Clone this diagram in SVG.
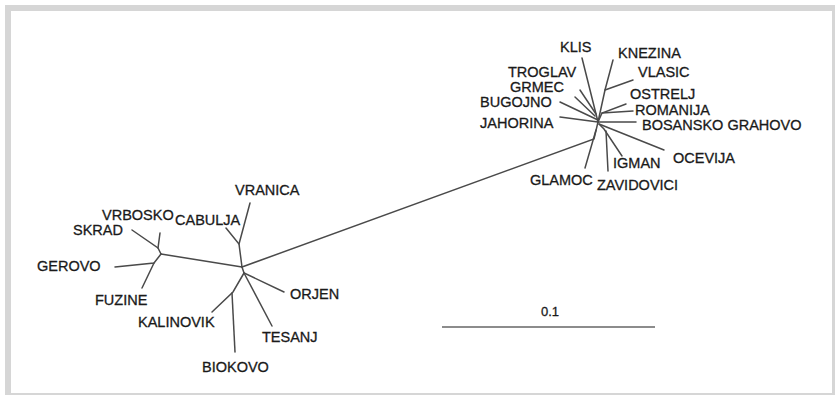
<svg xmlns="http://www.w3.org/2000/svg" width="835" height="395" viewBox="0 0 835 395">
<style>
.lbl{font-family:"Liberation Sans",Arial,sans-serif;font-size:14.5px;fill:#1a1a1a;stroke:#1a1a1a;stroke-width:0.3;}
.br{stroke:#4a4a4a;stroke-width:1.5;fill:none;stroke-linecap:round;}
.sc{stroke:#666;stroke-width:1.7;}
</style>
<rect x="5" y="5" width="830" height="390" fill="#d6d6d6"/>
<rect x="11" y="11" width="821" height="382" fill="#ffffff"/>
<g id="connectors">
<path class="br" d="M242,267 L594,139 L598,122"/>
<path class="br" d="M242,267 L161,254"/>
<path class="br" d="M161,254 L158,248 L132,230"/>
<path class="br" d="M158,248 L160,233"/>
<path class="br" d="M161,254 L154,263 L115,267"/>
<path class="br" d="M154,263 L142,288"/>
<path class="br" d="M242,267 L239,244 L226,228"/>
<path class="br" d="M239,244 L250,203"/>
<path class="br" d="M242,267 L244,273 L284,292"/>
<path class="br" d="M244,273 L272,326"/>
<path class="br" d="M244,273 L233,292 L212,312"/>
<path class="br" d="M232,293 L235,352"/>
<path class="br" d="M598,122 L582,58"/>
<path class="br" d="M598,122 L605,90 L613,60"/>
<path class="br" d="M605,90 L633,80"/>
<path class="br" d="M596,114 L580,90"/>
<path class="br" d="M595,116 L575,97"/>
<path class="br" d="M598,120 L560,102"/>
<path class="br" d="M598,122 L560,117"/>
<path class="br" d="M598,122 L602,113 L626,104"/>
<path class="br" d="M602,113 L633,111"/>
<path class="br" d="M598,122 L636,122"/>
<path class="br" d="M599,124 L664,150"/>
<path class="br" d="M599,124 L604,129 L622,156"/>
<path class="br" d="M606,131 L608,171"/>
<path class="br" d="M596,130 L585,168"/>
</g>
<g id="KLIS"><text class="lbl" x="560" y="52">KLIS</text></g>
<g id="KNEZINA"><text class="lbl" x="618" y="58">KNEZINA</text></g>
<g id="TROGLAV"><text class="lbl" x="508" y="77">TROGLAV</text></g>
<g id="VLASIC"><text class="lbl" x="638" y="77">VLASIC</text></g>
<g id="GRMEC"><text class="lbl" x="510" y="92">GRMEC</text></g>
<g id="OSTRELJ"><text class="lbl" x="630" y="99">OSTRELJ</text></g>
<g id="BUGOJNO"><text class="lbl" x="480" y="107">BUGOJNO</text></g>
<g id="ROMANIJA"><text class="lbl" x="635" y="115">ROMANIJA</text></g>
<g id="JAHORINA"><text class="lbl" x="480" y="128">JAHORINA</text></g>
<g id="BOSANSKO_GRAHOVO"><text class="lbl" x="642" y="130">BOSANSKO GRAHOVO</text></g>
<g id="OCEVIJA"><text class="lbl" x="673" y="163">OCEVIJA</text></g>
<g id="IGMAN"><text class="lbl" x="613" y="168">IGMAN</text></g>
<g id="GLAMOC"><text class="lbl" x="530" y="185">GLAMOC</text></g>
<g id="ZAVIDOVICI"><text class="lbl" x="597" y="190">ZAVIDOVICI</text></g>
<g id="VRANICA"><text class="lbl" x="235" y="195">VRANICA</text></g>
<g id="VRBOSKO"><text class="lbl" x="102" y="220">VRBOSKO</text></g>
<g id="CABULJA"><text class="lbl" x="175" y="225">CABULJA</text></g>
<g id="SKRAD"><text class="lbl" x="73" y="235">SKRAD</text></g>
<g id="GEROVO"><text class="lbl" x="37" y="271">GEROVO</text></g>
<g id="FUZINE"><text class="lbl" x="95" y="305">FUZINE</text></g>
<g id="KALINOVIK"><text class="lbl" x="138" y="327">KALINOVIK</text></g>
<g id="ORJEN"><text class="lbl" x="290" y="299">ORJEN</text></g>
<g id="TESANJ"><text class="lbl" x="262" y="342">TESANJ</text></g>
<g id="BIOKOVO"><text class="lbl" x="202" y="372">BIOKOVO</text></g>
<g id="scale">
<line class="sc" x1="442" y1="327" x2="655" y2="327"/>
<text class="lbl" x="550" y="316" text-anchor="middle" style="font-size:13px">0.1</text>
</g>
</svg>
